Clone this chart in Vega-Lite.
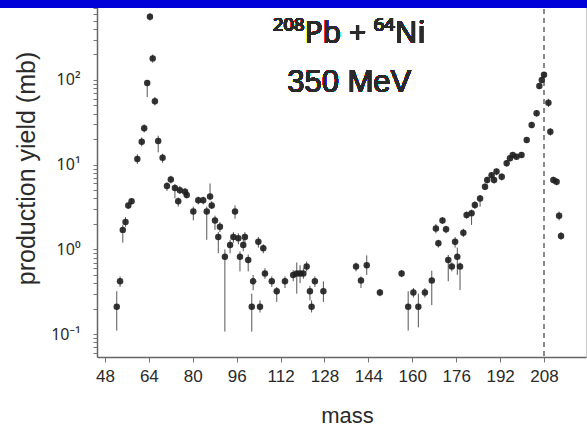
{
  "$schema": "https://vega.github.io/schema/vega-lite/v6.json",
  "width": 489,
  "height": 357,
  "autosize": {"type": "none"},
  "padding": {"left": 97, "top": 0, "right": 1, "bottom": 73},
  "background": "white",
  "config": {
    "view": {"stroke": "#c8c8c8", "strokeWidth": 1},
    "font": "Liberation Sans"
  },
  "data": {
    "values": [
      {"m": 52.3, "y": 0.21, "lo": 0.11, "hi": 0.32},
      {"m": 53.5, "y": 0.42, "lo": 0.36, "hi": 0.48},
      {"m": 54.5, "y": 1.7, "lo": 1.2, "hi": 1.95},
      {"m": 55.5, "y": 2.1, "lo": 1.85, "hi": 2.4},
      {"m": 56.5, "y": 3.3, "lo": 3.0, "hi": 3.6},
      {"m": 57.7, "y": 3.7, "lo": 3.4, "hi": 4.0},
      {"m": 59.8, "y": 11.7, "lo": 10.2, "hi": 13.3},
      {"m": 61.4, "y": 18.7, "lo": 16.5, "hi": 21},
      {"m": 62.3, "y": 27, "lo": 24, "hi": 30},
      {"m": 63.4, "y": 92, "lo": 63, "hi": 100},
      {"m": 64.4, "y": 560, "lo": 500, "hi": 620},
      {"m": 65.4, "y": 180, "lo": 160, "hi": 200},
      {"m": 66.2, "y": 56, "lo": 50, "hi": 63},
      {"m": 67.4, "y": 19, "lo": 14, "hi": 22},
      {"m": 69.0, "y": 12.1, "lo": 10.5, "hi": 13.5},
      {"m": 70.6, "y": 5.6, "lo": 4.9, "hi": 6.2},
      {"m": 72.0, "y": 6.7, "lo": 6.0, "hi": 7.4},
      {"m": 73.5, "y": 5.3, "lo": 4.0, "hi": 5.9},
      {"m": 74.7, "y": 3.7, "lo": 3.2, "hi": 4.1},
      {"m": 75.3, "y": 5.0, "lo": 4.5, "hi": 5.6},
      {"m": 77.2, "y": 4.8, "lo": 4.3, "hi": 5.3},
      {"m": 77.8, "y": 4.4, "lo": 4.0, "hi": 4.9},
      {"m": 80.2, "y": 2.8, "lo": 2.2, "hi": 3.2},
      {"m": 82.0, "y": 3.8, "lo": 3.4, "hi": 4.2},
      {"m": 83.8, "y": 3.8, "lo": 3.4, "hi": 4.2},
      {"m": 85.1, "y": 2.8, "lo": 1.3, "hi": 3.2},
      {"m": 86.3, "y": 4.2, "lo": 3.8, "hi": 6.0},
      {"m": 86.9, "y": 3.3, "lo": 3.0, "hi": 3.7},
      {"m": 88.1, "y": 2.2, "lo": 1.7, "hi": 2.5},
      {"m": 89.3, "y": 1.4, "lo": 0.9, "hi": 1.6},
      {"m": 89.9, "y": 1.85, "lo": 1.6, "hi": 2.1},
      {"m": 91.7, "y": 0.82, "lo": 0.107, "hi": 1.0},
      {"m": 93.6, "y": 1.13, "lo": 0.9, "hi": 1.3},
      {"m": 94.8, "y": 1.4, "lo": 1.2, "hi": 1.6},
      {"m": 95.4, "y": 2.8, "lo": 2.3, "hi": 3.3},
      {"m": 96.6, "y": 1.35, "lo": 1.15, "hi": 1.55},
      {"m": 97.2, "y": 0.82, "lo": 0.55, "hi": 0.95},
      {"m": 98.4, "y": 1.13, "lo": 0.95, "hi": 1.3},
      {"m": 99.0, "y": 1.4, "lo": 1.2, "hi": 1.6},
      {"m": 100.2, "y": 0.75, "lo": 0.55, "hi": 0.87},
      {"m": 101.5, "y": 0.21, "lo": 0.107, "hi": 0.3},
      {"m": 102.0, "y": 0.42, "lo": 0.33, "hi": 0.5},
      {"m": 103.9, "y": 1.23, "lo": 1.05, "hi": 1.4},
      {"m": 104.5, "y": 0.21, "lo": 0.18, "hi": 0.25},
      {"m": 105.7, "y": 1.03, "lo": 0.9, "hi": 1.15},
      {"m": 106.3, "y": 0.52, "lo": 0.45, "hi": 0.6},
      {"m": 108.8, "y": 0.42, "lo": 0.36, "hi": 0.48},
      {"m": 110.6, "y": 0.32, "lo": 0.24, "hi": 0.36},
      {"m": 113.6, "y": 0.42, "lo": 0.35, "hi": 0.48},
      {"m": 116.6, "y": 0.5, "lo": 0.42, "hi": 0.57},
      {"m": 117.9, "y": 0.52, "lo": 0.3, "hi": 0.7},
      {"m": 119.1, "y": 0.52, "lo": 0.4, "hi": 0.65},
      {"m": 120.3, "y": 0.52, "lo": 0.45, "hi": 0.6},
      {"m": 121.5, "y": 0.63, "lo": 0.55, "hi": 0.72},
      {"m": 122.7, "y": 0.32, "lo": 0.25, "hi": 0.37},
      {"m": 123.3, "y": 0.21, "lo": 0.18, "hi": 0.25},
      {"m": 124.5, "y": 0.42, "lo": 0.36, "hi": 0.48},
      {"m": 127.6, "y": 0.32, "lo": 0.24, "hi": 0.42},
      {"m": 139.5, "y": 0.63, "lo": 0.55, "hi": 0.7},
      {"m": 141.3, "y": 0.43, "lo": 0.35, "hi": 0.48},
      {"m": 143.4, "y": 0.65, "lo": 0.5, "hi": 0.85},
      {"m": 148.2, "y": 0.31, "lo": 0.28, "hi": 0.34},
      {"m": 156.1, "y": 0.52, "lo": 0.47, "hi": 0.57},
      {"m": 158.5, "y": 0.21, "lo": 0.11, "hi": 0.32},
      {"m": 160.4, "y": 0.31, "lo": 0.27, "hi": 0.35},
      {"m": 162.2, "y": 0.21, "lo": 0.12, "hi": 0.3},
      {"m": 164.6, "y": 0.31, "lo": 0.27, "hi": 0.35},
      {"m": 167.1, "y": 0.43, "lo": 0.22, "hi": 0.56},
      {"m": 168.6, "y": 1.77, "lo": 1.55, "hi": 2.0},
      {"m": 169.5, "y": 1.18, "lo": 1.05, "hi": 1.3},
      {"m": 171.0, "y": 2.2, "lo": 2.0, "hi": 2.4},
      {"m": 172.3, "y": 1.73, "lo": 1.55, "hi": 1.9},
      {"m": 173.1, "y": 0.75, "lo": 0.42, "hi": 0.86},
      {"m": 174.4, "y": 0.63, "lo": 0.55, "hi": 0.7},
      {"m": 175.6, "y": 1.23, "lo": 1.05, "hi": 1.4},
      {"m": 176.4, "y": 0.82, "lo": 0.5, "hi": 1.05},
      {"m": 177.4, "y": 0.63, "lo": 0.33, "hi": 0.7},
      {"m": 178.6, "y": 1.57, "lo": 1.4, "hi": 1.75},
      {"m": 179.8, "y": 2.55, "lo": 2.3, "hi": 2.8},
      {"m": 181.6, "y": 2.67, "lo": 1.95, "hi": 2.95},
      {"m": 182.8, "y": 3.34, "lo": 3.0, "hi": 3.7},
      {"m": 184.7, "y": 4.0, "lo": 3.2, "hi": 4.4},
      {"m": 186.5, "y": 5.5, "lo": 5.0, "hi": 6.0},
      {"m": 187.3, "y": 6.6, "lo": 6.0, "hi": 7.2},
      {"m": 188.9, "y": 7.5, "lo": 6.9, "hi": 8.2},
      {"m": 189.8, "y": 6.6, "lo": 6.0, "hi": 7.2},
      {"m": 190.7, "y": 8.3, "lo": 7.5, "hi": 9.0},
      {"m": 192.6, "y": 7.2, "lo": 6.5, "hi": 7.9},
      {"m": 194.4, "y": 10.4, "lo": 9.5, "hi": 11.3},
      {"m": 195.6, "y": 11.9, "lo": 11.0, "hi": 12.8},
      {"m": 196.6, "y": 13.0, "lo": 12.0, "hi": 14.0},
      {"m": 198.0, "y": 12.4, "lo": 11.5, "hi": 13.4},
      {"m": 199.8, "y": 13.0, "lo": 12.0, "hi": 14.0},
      {"m": 201.7, "y": 19.6, "lo": 18.0, "hi": 21.2},
      {"m": 203.5, "y": 29.4, "lo": 27.0, "hi": 32.0},
      {"m": 205.3, "y": 40.5, "lo": 37.0, "hi": 44.0},
      {"m": 206.3, "y": 85, "lo": 78, "hi": 92},
      {"m": 207.2, "y": 100, "lo": 92, "hi": 108},
      {"m": 208.0, "y": 115, "lo": 106, "hi": 124},
      {"m": 209.6, "y": 54, "lo": 48, "hi": 60},
      {"m": 210.3, "y": 24.5, "lo": 22, "hi": 27},
      {"m": 211.4, "y": 6.6, "lo": 6.0, "hi": 7.2},
      {"m": 212.6, "y": 6.3, "lo": 5.7, "hi": 6.9},
      {"m": 213.5, "y": 2.5, "lo": 2.2, "hi": 2.8},
      {"m": 214.2, "y": 1.44, "lo": 1.3, "hi": 1.6}
    ]
  },
  "encoding": {
    "x": {
      "field": "m",
      "type": "quantitative",
      "scale": {"domain": [45.1, 223.3], "nice": false, "zero": false},
      "axis": {
        "title": "mass",
        "titleFontSize": 22,
        "titleFontWeight": "normal",
        "titleColor": "#2a2a2a",
        "titleX": 250,
        "titleY": 58,
        "titleBaseline": "middle",
        "titleAlign": "center",
        "values": [48, 64, 80, 96, 112, 128, 144, 160, 176, 192, 208],
        "format": "d",
        "labelFontSize": 17,
        "labelColor": "#2a2a2a",
        "labelPadding": 6,
        "labelFlush": false,
        "labelOverlap": false,
        "labelBound": false,
        "tickSize": 5,
        "tickColor": "#777777",
        "domainColor": "#666666",
        "domainWidth": 1.5,
        "grid": false
      }
    }
  },
  "layer": [
    {
      "mark": {"type": "rule", "color": "#8a8a8a", "strokeDash": [5, 4], "strokeWidth": 1.2},
      "encoding": {"x": {"datum": 208, "type": "quantitative"}}
    },
    {
      "mark": {"type": "rule", "color": "#555555", "strokeWidth": 1},
      "encoding": {
        "y": {"field": "lo", "type": "quantitative"},
        "y2": {"field": "hi"}
      }
    },
    {
      "mark": {"type": "point", "shape": "circle", "filled": true, "size": 42, "color": "#1e1e1e", "opacity": 0.9},
      "encoding": {
        "y": {
          "field": "y",
          "type": "quantitative",
          "scale": {"type": "log", "domain": [0.05365, 880], "nice": false},
          "axis": {
            "title": "production yield  (mb)",
            "titleFontSize": 25,
            "titleFontWeight": "normal",
            "titleColor": "#2a2a2a",
            "titleAngle": -90,
            "titleX": -71,
            "titleY": 168,
            "titleAlign": "center",
            "titleBaseline": "middle",
            "values": [0.06,0.07,0.08,0.09,0.1,0.2,0.3,0.4,0.5,0.6,0.7,0.8,0.9,1,2,3,4,5,6,7,8,9,10,20,30,40,50,60,70,80,90,100,200,300,400,500,600,700,800],
            "labelExpr": "datum.value == 100 ? '10²' : datum.value == 10 ? '10¹' : datum.value == 1 ? '10⁰' : datum.value == 0.1 ? '10⁻¹' : ''",
            "labelFont": "Noto Sans",
            "labelFontSize": 16,
            "labelColor": "#2a2a2a",
            "labelPadding": 13,
            "labelOverlap": false,
            "labelFlush": false,
            "labelBound": false,
            "tickSize": 4,
            "tickColor": "#777777",
            "domainColor": "#666666",
            "domainWidth": 1.5,
            "grid": false
          }
        }
      }
    },
    {
      "mark": {"type": "text", "font": "Noto Sans", "fontSize": 30, "color": "#2a2a2a", "align": "center", "baseline": "alphabetic"},
      "encoding": {
        "x": {"datum": 137},
        "y": {"datum": 274},
        "text": {"value": "²⁰⁸Pb + ⁶⁴Ni"}
      }
    },
    {
      "mark": {"type": "text", "font": "Liberation Sans", "fontSize": 31, "color": "#2a2a2a", "align": "center", "baseline": "alphabetic"},
      "encoding": {
        "x": {"datum": 137},
        "y": {"datum": 72},
        "text": {"value": "350 MeV"}
      }
    },
    {
      "mark": {"type": "rect", "color": "#0000d8", "clip": false},
      "encoding": {
        "x": {"datum": 5, "type": "quantitative"},
        "x2": {"datum": 240},
        "y": {"datum": 3000, "type": "quantitative"},
        "y2": {"datum": 708}
      }
    }
  ]
}
